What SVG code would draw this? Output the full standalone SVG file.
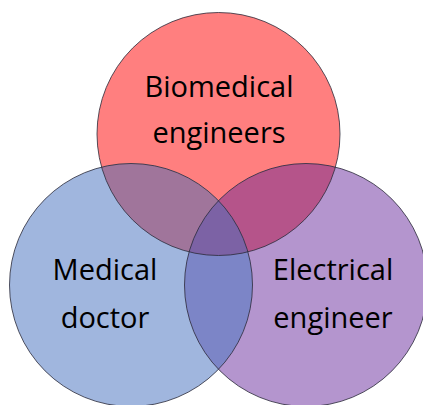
<svg xmlns="http://www.w3.org/2000/svg" width="423" height="405" viewBox="0 0 423 405">
  <style>
    .set { stroke: none; }
    .rim { fill: none; stroke: #2b2b3a; stroke-width: 1; stroke-opacity: 0.8; }
    .label { font-family: "Open Sans", "Noto Sans", sans-serif; font-size: 29px; fill: #000; text-anchor: middle; }
  </style>
  <defs>
    <circle id="cTop" cx="218.5" cy="134" r="121.5"/>
    <circle id="cLeft" cx="131" cy="285" r="121.5"/>
    <circle id="cRight" cx="306" cy="285" r="121.5"/>
    <clipPath id="clipTop"><use href="#cTop"/></clipPath>
    <clipPath id="clipLeft"><use href="#cLeft"/></clipPath>
    <clipPath id="clipRight"><use href="#cRight"/></clipPath>
  </defs>
  <rect width="423" height="405" fill="#fff"/>

  <!-- base sets -->
  <g id="biomedical-engineers">
    <use href="#cTop" class="set" fill="#FF7F7F"/>
  </g>
  <g id="medical-doctor">
    <use href="#cLeft" class="set" fill="#A0B6DE"/>
  </g>
  <g id="electrical-engineer">
    <use href="#cRight" class="set" fill="#B495CE"/>
  </g>

  <!-- overlap regions -->
  <g id="overlaps">
    <g clip-path="url(#clipTop)"><use href="#cLeft" fill="#A0759B"/></g>
    <g clip-path="url(#clipTop)"><use href="#cRight" fill="#B5548A"/></g>
    <g clip-path="url(#clipLeft)"><use href="#cRight" fill="#7C85C7"/></g>
    <g clip-path="url(#clipLeft)"><g clip-path="url(#clipTop)"><use href="#cRight" fill="#7C62A5"/></g></g>
  </g>

  <!-- outlines -->
  <g id="outlines">
    <use href="#cTop" class="rim"/>
    <use href="#cLeft" class="rim"/>
    <use href="#cRight" class="rim"/>
  </g>

  <g id="labels">
    <text class="label" x="219" y="97">Biomedical</text>
    <text class="label" x="219" y="143">engineers</text>
    <text class="label" x="105" y="280">Medical</text>
    <text class="label" x="105" y="328">doctor</text>
    <text class="label" x="333" y="280">Electrical</text>
    <text class="label" x="333" y="328">engineer</text>
  </g>
</svg>
